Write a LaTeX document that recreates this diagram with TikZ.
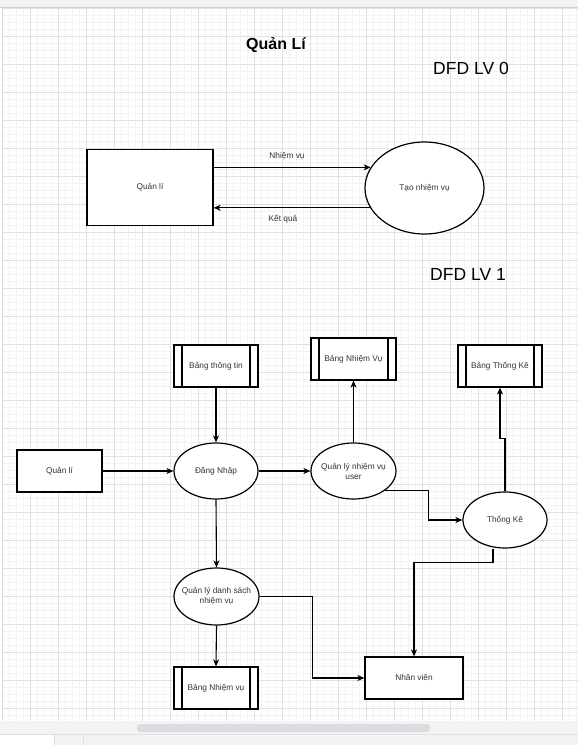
\documentclass[tikz,border=0pt]{standalone}
\usepackage{fontspec}
\setmainfont{Liberation Sans}
\usetikzlibrary{shapes.geometric,arrows.meta,calc}
\definecolor{minorg}{HTML}{F3F3F3}
\definecolor{majorg}{HTML}{E0E0E0}
\definecolor{chrome}{HTML}{F1F3F4}
\definecolor{sbar}{HTML}{DADCE0}
\definecolor{txt}{HTML}{333333}
\begin{document}
\begin{tikzpicture}[x=1pt,y=-1pt,
  lbl/.style={font=\fontsize{8.3}{10}\selectfont, text=txt},
  box/.style={draw=black, line width=1.2pt, fill=white, inner sep=0pt, lbl, align=center},
  ell/.style={ellipse, draw=black, line width=1.2pt, fill=white, inner sep=0pt},
  etext/.style={label={[lbl, align=center, inner sep=0pt]center:#1}},
  store/.style={box, path picture={
    \draw[line width=1.2pt] ([xshift=8pt]path picture bounding box.north west) -- ([xshift=8pt]path picture bounding box.south west);
    \draw[line width=1.2pt] ([xshift=-8pt]path picture bounding box.north east) -- ([xshift=-8pt]path picture bounding box.south east);}},
  arr/.style={draw=black, line width=1.1pt, -{Stealth[length=7pt,width=6pt,inset=2pt]}},
  minorline/.style={draw=minorg, line width=0.6pt},
  majorline/.style={draw=majorg, line width=0.8pt},
]
\useasboundingbox (0,0) rectangle (578,745);
% canvas and grid
\fill[white] (0,0) rectangle (578,745);
\foreach \i in {0,...,82} { \draw[minorline] ({2+7*\i},8) -- ({2+7*\i},721); }
\foreach \i in {0,...,101} { \draw[minorline] (2,{8+7*\i}) -- (578,{8+7*\i}); }
\foreach \i in {0,...,20} { \draw[majorline] ({2+28*\i},8) -- ({2+28*\i},721); }
\foreach \i in {0,...,25} { \draw[majorline] (2,{8+28*\i}) -- (578,{8+28*\i}); }
% window chrome
\fill[chrome] (0,0) rectangle (578,7);
\draw[gray!35] (0,7.5) -- (578,7.5);
\draw[gray!30] (2,8) -- (2,721);
\fill[chrome] (0,721) rectangle (578,745);
\fill[sbar, rounded corners=3pt] (137,724) rectangle (430,732);
\draw[gray!25] (0,734.5) -- (578,734.5);
\fill[white] (0,735) rectangle (54.5,745);
\draw[gray!25] (54.5,735) -- (54.5,745);
\draw[gray!25] (83.5,735) -- (83.5,745);

% titles
\node[font=\bfseries\fontsize{16}{19}\selectfont, inner sep=0pt] (title) at (276,45) {Quản Lí};
\node[font=\fontsize{17.5}{21}\selectfont, inner sep=0pt] (lv0) at (471,68) {DFD LV 0};
\node[font=\fontsize{17.5}{21}\selectfont, inner sep=0pt] (lv1) at (468,274) {DFD LV 1};

% LV 0
\node[box, minimum width=126, minimum height=76] (q0) at (150,187.5) {Quản lí};
\node[ell, minimum width=119, minimum height=92, etext={Tạo nhiệm vụ}] (t0) at (424.5,188) {};
\draw[arr] (q0.east |- t0.159.5) -- (t0.159.5);
\draw[arr] (t0.200) -- (q0.east |- t0.200);
\node[lbl, inner sep=0pt] (lnv) at (287,156) {Nhiệm vụ};
\node[lbl, inner sep=0pt] (lkq) at (283,219) {Kết quả};

% LV 1
\node[box, minimum width=85, minimum height=42] (q1) at (59.5,471) {Quản lí};
\node[store, minimum width=84, minimum height=42] (b1) at (216,366) {Bảng thông tin};
\node[ell, minimum width=84, minimum height=56, etext={Đăng Nhập}] (dn) at (216,471) {};
\node[store, minimum width=85, minimum height=42] (bnv) at (353.5,359) {Bảng Nhiệm Vụ};
\node[ell, minimum width=85, minimum height=56, etext={Quản lý nhiệm vụ\\user}] (qu) at (353.5,471) {};
\node[store, minimum width=84, minimum height=42] (btk) at (500,366) {Bảng Thống Kê};
\node[ell, minimum width=84, minimum height=56, etext={Thống Kê}] (tk) at (505,520) {};
\node[ell, minimum width=85, minimum height=57, etext={Quản lý danh sách\\nhiệm vụ}] (ql) at (216.5,596.5) {};
\node[store, minimum width=84, minimum height=42] (bnv2) at (216,688) {Bảng Nhiệm vụ};
\node[box, minimum width=98, minimum height=42] (nv) at (414,678) {Nhân viên};

\draw[arr] (b1.south) -- (dn.north);
\draw[arr] (q1.east) -- (dn.west);
\draw[arr] (dn.east) -- (qu.west);
\draw[arr] (qu.north) -- (bnv.south);
\draw[arr] (qu.-32) -- ++(44,0) |- (tk.west);
\draw[arr] (tk.north) -- ++(0,-53) -| (btk.south);
\draw[arr] (dn.south) -- (ql.north);
\draw[arr] (ql.south) -- (bnv2.north);
\draw[arr] (ql.east) -- ++(53,0) |- (nv.west);
\draw[arr] ([xshift=-12pt]tk.south) -- ++(0,14) -| (nv.north);
\end{tikzpicture}
\end{document}
